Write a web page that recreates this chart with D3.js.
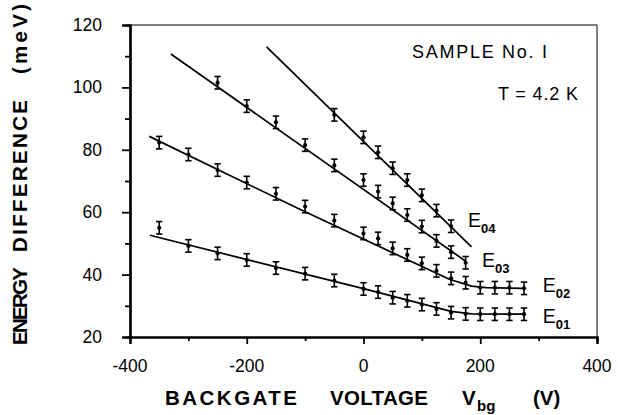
<!DOCTYPE html>
<html><head><meta charset="utf-8">
<script src="https://cdn.jsdelivr.net/npm/d3@7"></script>
<style>
body{margin:0;background:#fff;}
svg{display:block;font-family:"Liberation Sans",Arial,Helvetica,sans-serif;}
</style></head>
<body>
<svg id="chart" width="618" height="415"></svg>
<script>
// ---- data ----
const vE01 = [-350,-300,-250,-200,-150,-100,-50,0,25,50,75,100,125,150,175,200,225,250,275];
const E01  = [55,49.2,46.8,44.7,42.1,40.3,38.1,35.4,34.4,32.6,31.6,30.4,29.0,27.8,27.4,27.3,27.3,27.3,27.3];
const vE02 = [-350,-300,-250,-200,-150,-100,-50,0,25,50,75,100,125,150,175,200,225,250,275];
const E02  = [82.3,78.5,73.5,69.5,65.9,61.8,57.3,53.2,51.6,48.4,46.3,43.6,41.2,38.8,37.4,35.8,35.8,35.8,35.6];
const vE03 = [-250,-200,-150,-100,-50,0,25,50,75,100,125,150,175];
const E03  = [101.5,94,88.8,81.5,75,70.3,66.6,62.8,59.1,55.4,50.8,47.2,43.8];
const vE04 = [-50,0,25,50,75,100,125,150];
const E04  = [91.2,84,79.2,74.1,70.3,65.4,60.5,55.5];
const errBar = 2; // meV, +/-

// fitted curves
const fitVE01 = [-366,0,150,185,275];   const fitE01 = [52.6,35.5,28.2,27.4,27.3];
const fitVE02 = [-367,-110,147,185,210,275]; const fitE02 = [84.3,61,38.5,36.3,35.8,35.6];
const fitVE03 = [-330,175];             const fitE03 = [110.7,44.3];
const fitVE04 = [-166,185];             const fitE04 = [113,48.9];

const xMajor = [-400,-200,0,200,400];
const xMinor = [-300,-100,100,300];
const yMajor = [20,40,60,80,100,120];
const yMinor = [30,50,70,90,110];

const seriesLabels = [
  {name:"E", sub:"04", v:179, e:55.3},
  {name:"E", sub:"03", v:203, e:42.4},
  {name:"E", sub:"02", v:307, e:34.4},
  {name:"E", sub:"01", v:307, e:24.5}
];

// ---- drawing ----
const svg = d3.select("#chart");
const x = d3.scaleLinear().domain([-400,400]).range([130,597]);
const y = d3.scaleLinear().domain([20,120]).range([337,25]);

// frame top/right
svg.append("path").attr("d",`M${x(-400)},${y(120)}H${x(400)}V${y(20)}`)
  .attr("fill","none").attr("stroke","#000").attr("stroke-width",1);

// axes
const gx = svg.append("g").attr("transform",`translate(0,${y(20)})`);
gx.call(d3.axisBottom(x).tickValues(xMajor).tickSize(7).tickFormat(""));
gx.append("g").call(d3.axisBottom(x).tickValues(xMinor).tickSize(4).tickFormat(""));
gx.selectAll("path.domain").attr("stroke-width",2.2);
gx.selectAll("line").attr("stroke-width",1.8);
const gy = svg.append("g").attr("transform",`translate(${x(-400)},0)`);
gy.call(d3.axisLeft(y).tickValues(yMajor).tickSize(8).tickFormat(""));
gy.append("g").call(d3.axisLeft(y).tickValues(yMinor).tickSize(5).tickFormat(""));
gy.selectAll("path.domain").attr("stroke-width",2.2);
gy.selectAll("line").attr("stroke-width",1.8);

svg.selectAll("text.xt").data(xMajor).join("text").attr("class","xt")
  .attr("x",d=>x(d)).attr("y",372).attr("text-anchor","middle")
  .attr("font-size",17.5).text(d=>d);
svg.selectAll("text.yt").data(yMajor).join("text").attr("class","yt")
  .attr("x",102).attr("y",d=>y(d)+6).attr("text-anchor","end")
  .attr("font-size",17.5).text(d=>d);

// axis titles
const xt = svg.append("text").attr("y",405).attr("font-size",20.5).attr("font-weight","bold");
xt.append("tspan").attr("x",165).attr("textLength",132).attr("lengthAdjust","spacing").text("BACKGATE");
xt.append("tspan").attr("x",330).attr("textLength",98).attr("lengthAdjust","spacing").text("VOLTAGE");
xt.append("tspan").attr("x",462).text("V");
xt.append("tspan").attr("x",477).attr("dy",6).attr("font-size",15).text("bg");
xt.append("tspan").attr("x",533).attr("dy",-6).text("(V)");

const yt = svg.append("text").attr("transform","translate(27,0) rotate(-90)")
  .attr("font-size",20.5).attr("font-weight","bold");
yt.append("tspan").attr("x",-345).attr("textLength",78).attr("lengthAdjust","spacing").text("ENERGY");
yt.append("tspan").attr("x",-252).attr("textLength",152).attr("lengthAdjust","spacing").text("DIFFERENCE");
yt.append("tspan").attr("x",-74).attr("textLength",70).attr("lengthAdjust","spacing").text("(meV)");

// fit lines
const line = d3.line().x(d=>x(d[0])).y(d=>y(d[1]));
[[fitVE01,fitE01],[fitVE02,fitE02],[fitVE03,fitE03],[fitVE04,fitE04]].forEach(([vs,es])=>{
  svg.append("path").datum(d3.zip(vs,es)).attr("d",line)
    .attr("fill","none").attr("stroke","#000").attr("stroke-width",1.7);
});

// data points with error bars
[[vE01,E01],[vE02,E02],[vE03,E03],[vE04,E04]].forEach(([vs,es])=>{
  const pts = d3.zip(vs,es);
  const g = svg.append("g");
  const pg = g.selectAll("g").data(pts).join("g");
  pg.append("line").attr("x1",d=>x(d[0])).attr("x2",d=>x(d[0]))
    .attr("y1",d=>y(d[1]+errBar)).attr("y2",d=>y(d[1]-errBar))
    .attr("stroke","#000").attr("stroke-width",1.6);
  pg.append("line").attr("x1",d=>x(d[0])-3.2).attr("x2",d=>x(d[0])+3.2)
    .attr("y1",d=>y(d[1]+errBar)).attr("y2",d=>y(d[1]+errBar))
    .attr("stroke","#000").attr("stroke-width",1.6);
  pg.append("line").attr("x1",d=>x(d[0])-3.2).attr("x2",d=>x(d[0])+3.2)
    .attr("y1",d=>y(d[1]-errBar)).attr("y2",d=>y(d[1]-errBar))
    .attr("stroke","#000").attr("stroke-width",1.6);
  pg.append("circle").attr("cx",d=>x(d[0])).attr("cy",d=>y(d[1])).attr("r",2.1).attr("fill","#000");
});

// series labels
seriesLabels.forEach(s=>{
  const t = svg.append("text").attr("x",x(s.v)).attr("y",y(s.e)).attr("font-size",19.5);
  t.append("tspan").text(s.name);
  t.append("tspan").attr("dy",6).attr("font-size",13).attr("font-weight","bold").text(s.sub);
});

// annotations
svg.append("text").attr("x",412).attr("y",58).attr("font-size",18)
  .attr("textLength",135).attr("lengthAdjust","spacing").text("SAMPLE No. I");
svg.append("text").attr("x",498).attr("y",100).attr("font-size",18)
  .attr("textLength",80).attr("lengthAdjust","spacing").text("T = 4.2 K");
</script>
</body></html>
